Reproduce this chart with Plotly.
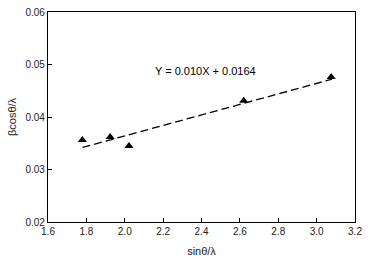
import plotly.graph_objects as go

x_vals = [1.779, 1.924, 2.022, 2.620, 3.076]
y_vals = [0.0356, 0.0362, 0.0345, 0.0431, 0.0476]
slope = 0.010
intercept = 0.0164
fit_x = [1.78, 3.08]
fit_y = [slope * v + intercept for v in fit_x]
eq_text = "Y = 0.010X + 0.0164"

fig = go.Figure()
fig.add_trace(go.Scatter(x=fit_x, y=fit_y, mode="lines",
                         line=dict(color="black", width=1.3, dash="8px,4px"),
                         showlegend=False))
fig.add_trace(go.Scatter(x=x_vals, y=y_vals, mode="markers",
                         marker=dict(symbol="triangle-up", size=8, color="black"),
                         showlegend=False))
fig.add_annotation(x=2.419, y=0.0488, text=eq_text, showarrow=False,
                   font=dict(size=11, color="black", family="Liberation Sans, Arial"))

axis_common = dict(showgrid=False, zeroline=False, showline=True, linecolor="black",
                   linewidth=1.2, mirror=True, ticks="inside", ticklen=4,
                   tickcolor="black",
                   tickfont=dict(size=10, color="#222", family="Liberation Sans, Arial"))
fig.update_xaxes(range=[1.6, 3.2], dtick=0.2, tickformat=".1f",
                 title=dict(text="sinθ/λ", standoff=11,
                            font=dict(size=11, color="#222", family="Liberation Sans, Arial")),
                 **axis_common)
fig.update_yaxes(range=[0.02, 0.06], dtick=0.01, tickformat=".2f",
                 title=dict(text="βcosθ/λ", standoff=6,
                            font=dict(size=11, color="#222", family="Liberation Sans, Arial")),
                 **axis_common)
fig.update_layout(width=368, height=263, margin=dict(l=48, r=10, t=6, b=41),
                  plot_bgcolor="white", paper_bgcolor="white")
fig.write_html("out.html")
